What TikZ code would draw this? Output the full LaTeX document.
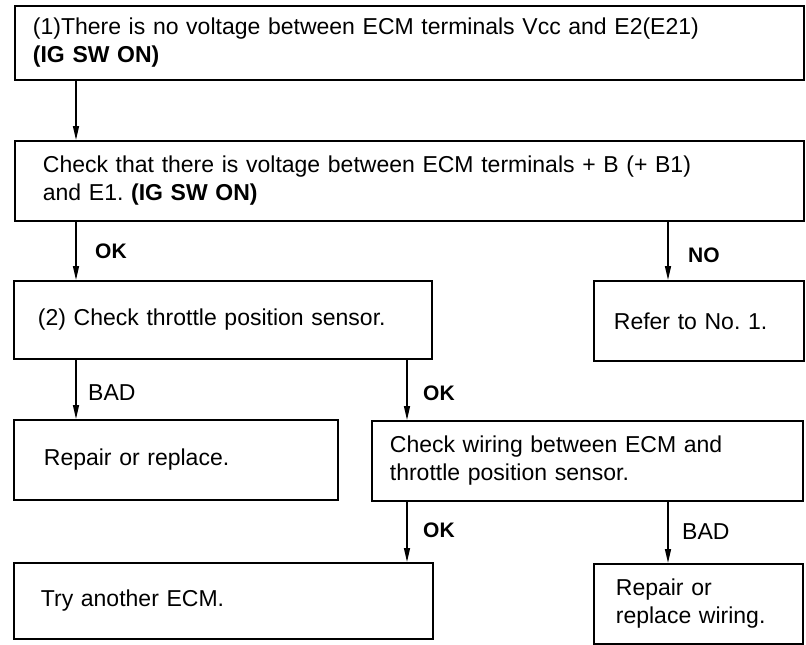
\documentclass[tikz,border=0pt]{standalone}
\usepackage{fontspec}
\setmainfont{Liberation Sans}
\usetikzlibrary{arrows.meta}
\frenchspacing
\begin{document}
\begin{tikzpicture}[x=1pt,y=-1pt,
  box/.style={draw,line width=1.8pt,anchor=north west,align=left,inner ysep=0pt,font=\frenchspacing\fontsize{23}{28}\selectfont},
  arr/.style={line width=1.4pt,-{Triangle[length=14pt,width=6pt]}},
  lab/.style={anchor=base west,inner sep=0pt,font=\fontsize{23}{28}\selectfont},
  labb/.style={anchor=base west,inner sep=0pt,font=\bfseries\fontsize{21}{24}\selectfont}]
\useasboundingbox (0,0) rectangle (806,645);
\node[box,text width=753pt,inner xsep=18pt,minimum height=74pt] (b1) at (14,5)
  {(1)There is no voltage between ECM terminals Vcc and E2(E21)\\\textbf{(IG SW ON)}};
\node[box,text width=733pt,inner xsep=28pt,minimum height=80pt] (b2) at (14,140)
  {Check that there is voltage between ECM terminals + B (+ B1)\\and E1. \textbf{(IG SW ON)}};
\node[box,text width=370pt,inner xsep=24pt,minimum height=78pt] (b3) at (13,280)
  {(2) Check throttle position sensor.};
\node[box,text width=170pt,inner xsep=20pt,minimum height=80pt] (b4) at (593,280)
  {Refer to No. 1.};
\node[box,text width=264pt,inner xsep=30pt,minimum height=80pt] (b5) at (13,419)
  {Repair or replace.};
\node[box,text width=395pt,inner xsep=18pt,minimum height=80pt] (b6) at (371,420)
  {Check wiring between ECM and\\throttle position sensor.};
\node[box,text width=365pt,inner xsep=27pt,minimum height=76pt] (b7) at (13,562)
  {Try another ECM.};
\node[box,text width=165pt,inner xsep=22pt,minimum height=80pt] (b8) at (593,563)
  {Repair or\\replace wiring.};
\coordinate (cx1) at (76,0);
\coordinate (cx2) at (407,0);
\coordinate (cx3) at (668,0);
\draw[arr] (b1.south -| cx1) -- (b2.north -| cx1);
\draw[arr] (b2.south -| cx1) -- (b3.north -| cx1);
\draw[arr] (b2.south -| cx3) -- (b4.north -| cx3);
\draw[arr] (b3.south -| cx1) -- (b5.north -| cx1);
\draw[arr] (b3.south -| cx2) -- (b6.north -| cx2);
\draw[arr] (b6.south -| cx2) -- (b7.north -| cx2);
\draw[arr] (b6.south -| cx3) -- (b8.north -| cx3);
\node[labb] (l1) at (95,258) {OK};
\node[labb] (l2) at (688,262) {NO};
\node[lab] (l3) at (88,400) {BAD};
\node[labb] (l4) at (423,400) {OK};
\node[labb] (l5) at (423,537) {OK};
\node[lab] (l6) at (682,539) {BAD};
\end{tikzpicture}
\end{document}
